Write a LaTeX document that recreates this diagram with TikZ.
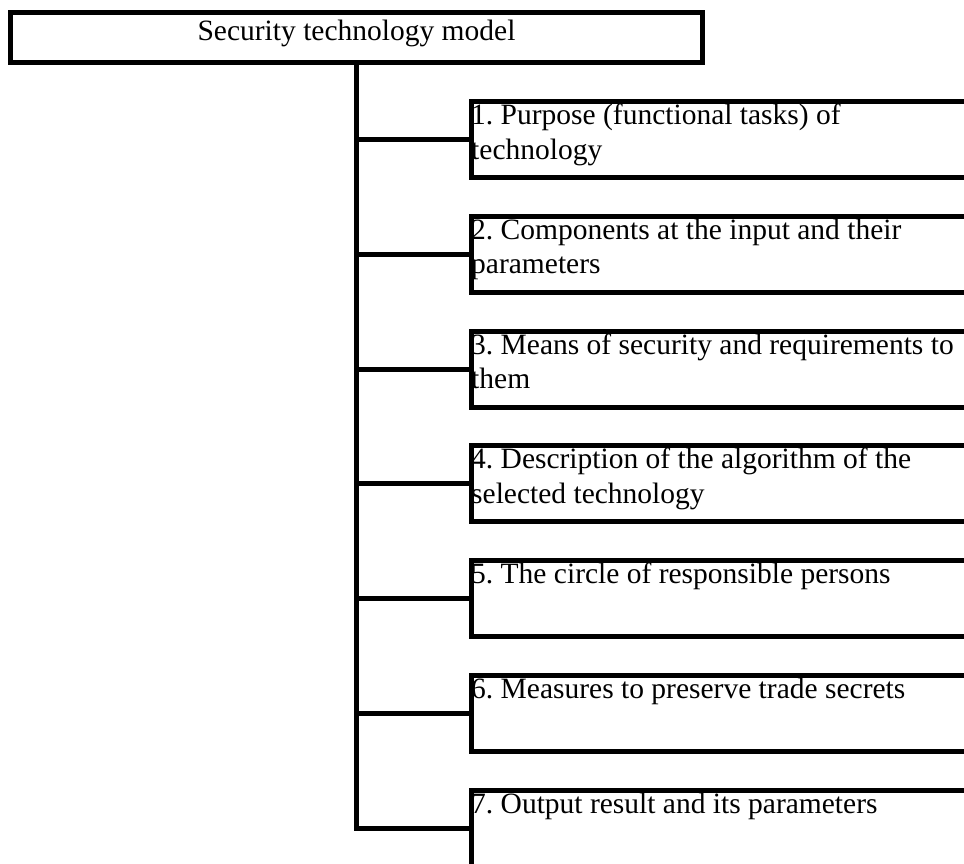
\documentclass[tikz,border=0pt]{standalone}
\usepackage{fontspec}
\setmainfont{Liberation Serif}
\frenchspacing
\begin{document}
\begin{tikzpicture}[x=1pt,y=-1pt,
  frame/.style={draw, line width=5pt, outer sep=0pt, inner sep=0pt},
  headbox/.style={frame, minimum width=692pt, minimum height=50pt, text height=20pt, text depth=14pt, font=\fontsize{29.5}{34.5}\selectfont\frenchspacing},
  itembox/.style={frame, minimum width=600pt, minimum height=76pt, anchor=north west},
  itemtext/.style={anchor=base west, inner sep=0pt, text width=600pt, align=flush left, font=\fontsize{29.5}{34.5}\selectfont\frenchspacing},
  link/.style={line width=5pt}]
\useasboundingbox (0,0) rectangle (964,863);
\clip (0,0) rectangle (964,863);
\node[headbox] (head) at (356.5,37.5) {Security technology model};
\node[itembox] (b1) at (471,101.5) {};
\node[itembox] (b2) at (471,216.3) {};
\node[itembox] (b3) at (471,331.1) {};
\node[itembox] (b4) at (471,445.9) {};
\node[itembox] (b5) at (471,560.7) {};
\node[itembox] (b6) at (471,675.5) {};
\node[itembox] (b7) at (471,790.3) {};
\node[itemtext] (t1) at ([yshift=-23pt]b1.north west) {1. Purpose (functional tasks) of\\technology};
\node[itemtext] (t2) at ([yshift=-23pt]b2.north west) {2. Components at the input and their\\parameters};
\node[itemtext] (t3) at ([yshift=-23pt]b3.north west) {3. Means of security and requirements to\\them};
\node[itemtext] (t4) at ([yshift=-23pt]b4.north west) {4. Description of the algorithm of the\\selected technology};
\node[itemtext] (t5) at ([yshift=-23pt]b5.north west) {5. The circle of responsible persons};
\node[itemtext] (t6) at ([yshift=-23pt]b6.north west) {6. Measures to preserve trade secrets};
\node[itemtext] (t7) at ([yshift=-23pt]b7.north west) {7. Output result and its parameters};
\draw[link] (head.south) -- (head.south |- b7.west) -- (b7.west);
\foreach \k in {1,...,6} {
  \draw[link] (head.south |- b\k.west) -- (b\k.west);
}
\end{tikzpicture}
\end{document}
